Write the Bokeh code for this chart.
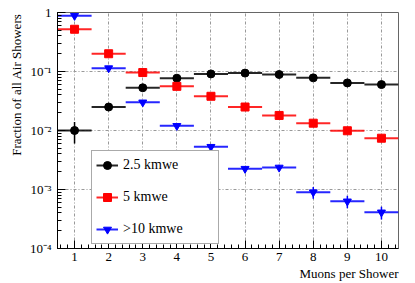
import numpy as np
from bokeh.plotting import figure
from bokeh.models import (Range1d, SingleIntervalTicker, LogTicker, CustomJSTickFormatter,
                          Legend, LegendItem, Title, ColumnDataSource)
from bokeh.embed import file_html
from bokeh.resources import INLINE

# ---- data ----
muons = [1, 2, 3, 4, 5, 6, 7, 8, 9, 10]
frac_25 = [0.010, 0.025, 0.053, 0.077, 0.091, 0.094, 0.089, 0.078, 0.064, 0.060]
err_25 = [0.004, 0.001, 0.0015, 0.002, 0.002, 0.002, 0.002, 0.002, 0.0015, 0.0015]
frac_5 = [0.52, 0.20, 0.096, 0.056, 0.038, 0.025, 0.018, 0.0133, 0.0099, 0.0074]
err_5 = [0.01, 0.006, 0.003, 0.002, 0.0015, 0.001, 0.0008, 0.0006, 0.0005, 0.0004]
frac_10 = [0.88, 0.114, 0.030, 0.012, 0.0053, 0.00225, 0.00236, 0.0009, 0.00063, 0.00041]
err_10 = [0.02, 0.006, 0.002, 0.001, 0.0004, 0.00025, 0.00028, 0.0002, 0.00015, 0.0001]
bin_half = 0.5
series_labels = ["2.5 kmwe", "5 kmwe", ">10 kmwe"]

FONT = "Liberation Serif"

p = figure(width=415, height=283, y_axis_type="log",
           x_range=Range1d(0.5, 10.5), y_range=Range1d(1e-4, 1),
           output_backend="svg", toolbar_location=None,
           min_border_left=57, min_border_right=17, min_border_top=12, min_border_bottom=35)
p.background_fill_color = "white"
p.border_fill_color = "white"
p.outline_line_color = "#666666"
p.outline_line_width = 1

# axes
p.xaxis.ticker = SingleIntervalTicker(interval=1, num_minor_ticks=5)
p.yaxis.ticker = LogTicker(num_minor_ticks=10)
p.yaxis.formatter = CustomJSTickFormatter(code="""
const e = Math.round(Math.log10(tick));
if (e == 0) return "1";
const sup = {"-":"\u207b","0":"\u2070","1":"\u00b9","2":"\u00b2","3":"\u00b3","4":"\u2074","5":"\u2075","6":"\u2076","7":"\u2077","8":"\u2078","9":"\u2079"};
return "10" + String(e).split("").map(c => sup[c]).join("");
""")
for ax in (p.xaxis, p.yaxis):
    ax.major_tick_in = 8
    ax.major_tick_out = 0
    ax.minor_tick_in = 4
    ax.minor_tick_out = 0
    ax.axis_line_color = "black"
    ax.major_tick_line_color = "black"
    ax.minor_tick_line_color = "black"
    ax.major_label_text_font = FONT
    ax.major_label_text_font_size = "13px"
    ax.major_label_text_font_style = "normal"
    ax.major_label_text_color = "black"
p.xaxis.major_label_standoff = 4
p.yaxis.major_label_standoff = 6

for g in (p.xgrid, p.ygrid):
    g.grid_line_color = "#999999"
    g.grid_line_dash = "3 2 1 2"
    g.grid_line_width = 1

def draw(frac, err, color, marker, size):
    x = np.array(muons, dtype=float)
    y = np.array(frac)
    e = np.array(err)
    src = ColumnDataSource(dict(x=x, y=y, x0=x - bin_half, x1=x + bin_half,
                                ylo=y - e, yhi=y + e))
    hb = p.segment(x0="x0", y0="y", x1="x1", y1="y", source=src,
                   line_color=color, line_width=2, line_alpha=0.85)
    p.segment(x0="x", y0="ylo", x1="x", y1="yhi", source=src,
              line_color=color, line_width=1.5)
    sc = p.scatter("x", "y", source=src, marker=marker, size=size,
                   fill_color=color, line_color=color)
    return [hb, sc]

r1 = draw(frac_25, err_25, "black", "circle", 8)
r2 = draw(frac_5, err_5, "#ff0000", "square", 8)
r3 = draw(frac_10, err_10, "#0000ff", "inverted_triangle", 8)

legend = Legend(items=[LegendItem(label=series_labels[0], renderers=r1),
                       LegendItem(label=series_labels[1], renderers=r2),
                       LegendItem(label=series_labels[2], renderers=r3)],
                location=(34, 4))
legend.label_text_font = FONT
legend.label_text_font_size = "14px"
legend.label_text_font_style = "normal"
legend.label_text_color = "black"
legend.label_height = 20
legend.glyph_height = 20
legend.glyph_width = 22
legend.label_width = 91
legend.label_standoff = 5
legend.spacing = 12
legend.padding = 4
legend.margin = 0
legend.border_line_color = "#555555"
legend.border_line_width = 1
legend.background_fill_color = "white"
legend.background_fill_alpha = 1
p.add_layout(legend, "center")

xt = Title(text="Muons per Shower", align="right", text_font=FONT,
           text_font_size="13px", text_font_style="normal", text_color="black",
           standoff=0, offset=0)
yt = Title(text="Fraction of all Air Showers", align="right", text_font=FONT,
           text_font_size="13px", text_font_style="normal", text_color="black",
           standoff=5, offset=1)
p.add_layout(xt, "below")
p.add_layout(yt, "left")

open("out.html", "w").write(file_html(p, INLINE))
